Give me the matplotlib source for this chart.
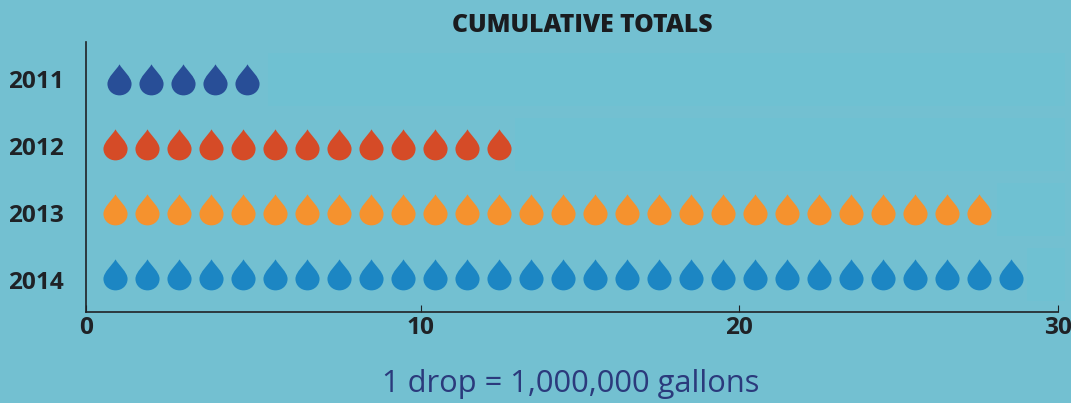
import matplotlib
matplotlib.use("Agg")
import matplotlib.pyplot as plt
from matplotlib.path import Path

YEARS = ["2011", "2012", "2013", "2014"]
DROPS = [5, 13, 28, 29]
COLOURS = ["#284E97", "#D54B27", "#F5922E", "#1C86C3"]
XTICK_LABELS = ["0", "10", "20", "30"]

BG = "#73C0D1"
TILE = "#6FC1D2"
INK = "#1F2226"

W, H = 1071, 403
L, R, T, B = 86, 1057.7, 42, 311.5
DROP_W = 32   # px per drop along x
ROW_H = 65    # px per row along y

# the printed axis is hand placed, 0-10 is a bit wider than the others
XTICK_POS = [0, 10.47, 20.41, 30.37]
# year labels drift away from the rows as they go down
YTICK_POS = [1, 2.03, 3.06, 4.09]
FIRST_DROP = [1.03, 0.91, 0.91, 0.91]
TILE_START = [5.69, 13.4, 28.47, 29.4]


def drop_path():
    # teardrop: point on top, round belly
    verts = [(0, 1.0), (0.16, 0.70), (0.63, 0.34), (0.63, -0.02),
             (0.63, -0.36), (0.35, -0.62), (0, -0.62),
             (-0.35, -0.62), (-0.63, -0.36), (-0.63, -0.02),
             (-0.63, 0.34), (-0.16, 0.70), (0, 1.0), (0, 1.0)]
    codes = [Path.MOVETO] + [Path.CURVE4] * 12 + [Path.CLOSEPOLY]
    return Path(verts, codes)


fig = plt.figure(figsize=(W / 100, H / 100), dpi=100, facecolor=BG)
ax = fig.add_axes([L / W, 1 - B / H, (R - L) / W, (B - T) / H], facecolor="none")
ax.set_xlim(0, 30.37)
ax.set_ylim(1 + (B - 79.5) / ROW_H, 1 + (T - 79.5) / ROW_H)

marker = drop_path()
for row, (n, col, first, tile) in enumerate(zip(DROPS, COLOURS, FIRST_DROP, TILE_START)):
    y = row + 1
    # faint leftover panel to the right of each row
    ax.barh(y, 30.6 - tile, left=tile, height=0.83, color=TILE, clip_on=False, zorder=0)
    xs = [first + i for i in range(n)]
    ax.scatter(xs, [y + 0.055] * n, marker=marker, s=760, c=col, linewidths=0, zorder=3)

ax.set_yticks(YTICK_POS, YEARS)
ax.set_xticks(XTICK_POS, XTICK_LABELS)
ax.tick_params(axis="y", length=0, pad=16, labelsize=17.6, labelcolor=INK)
ax.tick_params(axis="x", direction="in", length=4.8, width=0.8, color=INK, pad=3,
               labelsize=17.6, labelcolor=INK)
for lab in ax.get_xticklabels() + ax.get_yticklabels():
    lab.set_fontfamily("Open Sans")
    lab.set_fontweight("bold")

for side in ("top", "right"):
    ax.spines[side].set_visible(False)
for side in ("left", "bottom"):
    ax.spines[side].set_color(INK)
    ax.spines[side].set_linewidth(1.2)

fig.text(582.5 / W, 1 - 25 / H, "CUMULATIVE TOTALS", ha="center", va="center",
         fontsize=17.8, fontweight="heavy", family="Open Sans", color="#1A1C1F")
fig.text(571 / W, 1 - 384 / H, "1 drop = 1,000,000 gallons", ha="center", va="center",
         fontsize=22.2, family="Open Sans", color="#2B3A7C")

fig.savefig("out.png", dpi=100, facecolor=BG)
